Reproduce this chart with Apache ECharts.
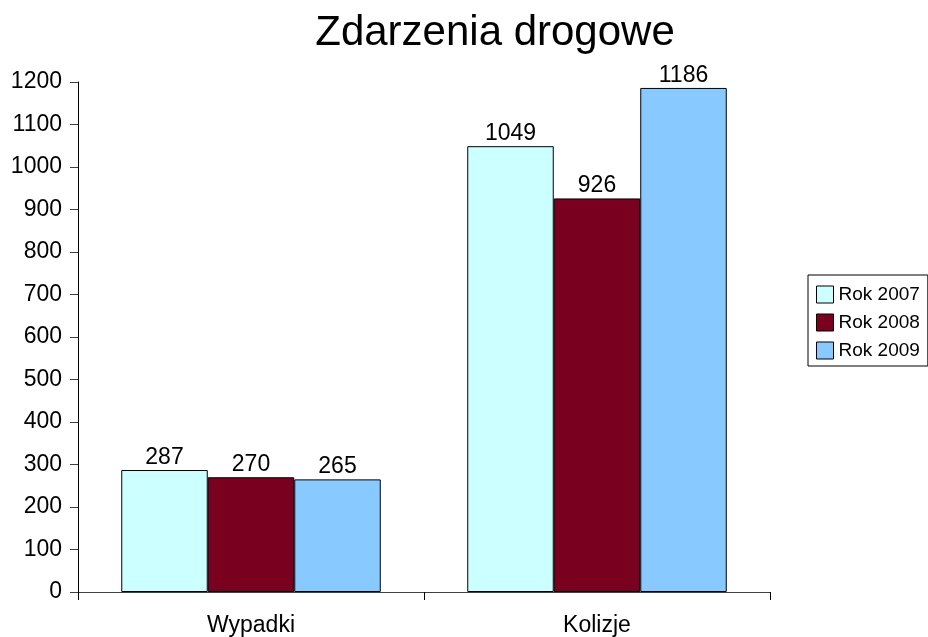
<!DOCTYPE html>
<html>
<head>
<meta charset="utf-8">
<script src="https://cdn.jsdelivr.net/npm/echarts@6/dist/echarts.min.js"></script>
<style>
  html, body { margin: 0; padding: 0; background: #fff; }
  #chart { width: 928px; height: 637px; }
</style>
</head>
<body>
<div id="chart"></div>
<script>
// dane z wykresu
const categories = ['Wypadki', 'Kolizje'];
const seriesNames = ['Rok 2007', 'Rok 2008', 'Rok 2009'];
const rok2007 = [287, 1049];
const rok2008 = [270, 926];
const rok2009 = [265, 1186];
const colors = ['#CCFFFF', '#7A0020', '#88CAFF'];

const font = 'Liberation Sans, Arial, sans-serif';
const chart = echarts.init(document.getElementById('chart'));

const makeSeries = (name, data, i) => ({
  name: name,
  type: 'bar',
  data: data,
  barGap: '0%',
  barCategoryGap: '25%',
  itemStyle: { color: colors[i], borderColor: '#000', borderWidth: 1 },
  label: {
    show: true,
    position: 'top',
    distance: 1,
    color: '#000',
    fontFamily: font,
    fontSize: 23
  }
});

chart.setOption({
  animation: false,
  title: {
    text: 'Zdarzenia drogowe',
    left: 490,
    textAlign: 'center',
    top: 7,
    textStyle: { fontFamily: font, fontSize: 42, fontWeight: 'normal', color: '#000' }
  },
  legend: {
    orient: 'vertical',
    left: 808,
    top: 275,
    width: 119,
    padding: [10, 8, 6, 8],
    itemGap: 9,
    itemWidth: 17,
    itemHeight: 17,
    borderColor: '#000',
    borderWidth: 1,
    icon: 'rect',
    itemStyle: { borderColor: '#000', borderWidth: 1 },
    textStyle: { fontFamily: font, fontSize: 19, color: '#000' },
    data: seriesNames
  },
  grid: { left: 78, right: 158, top: 82, bottom: 45 },
  xAxis: {
    type: 'category',
    data: categories,
    axisLine: { lineStyle: { color: '#404040', width: 1 } },
    axisTick: { show: true, length: 8, lineStyle: { color: '#000' } },
    axisLabel: { fontFamily: font, fontSize: 23, color: '#000', margin: 22 }
  },
  yAxis: {
    type: 'value',
    min: 0,
    max: 1200,
    interval: 100,
    splitLine: { show: false },
    axisLine: { show: true, lineStyle: { color: '#000', width: 1 } },
    axisTick: { show: true, length: 8, lineStyle: { color: '#404040' } },
    axisLabel: {
      fontFamily: font,
      fontSize: 23,
      color: '#000',
      margin: 16,
      formatter: (v) => String(v)
    }
  },
  series: [
    makeSeries(seriesNames[0], rok2007, 0),
    makeSeries(seriesNames[1], rok2008, 1),
    makeSeries(seriesNames[2], rok2009, 2)
  ]
});
</script>
</body>
</html>
